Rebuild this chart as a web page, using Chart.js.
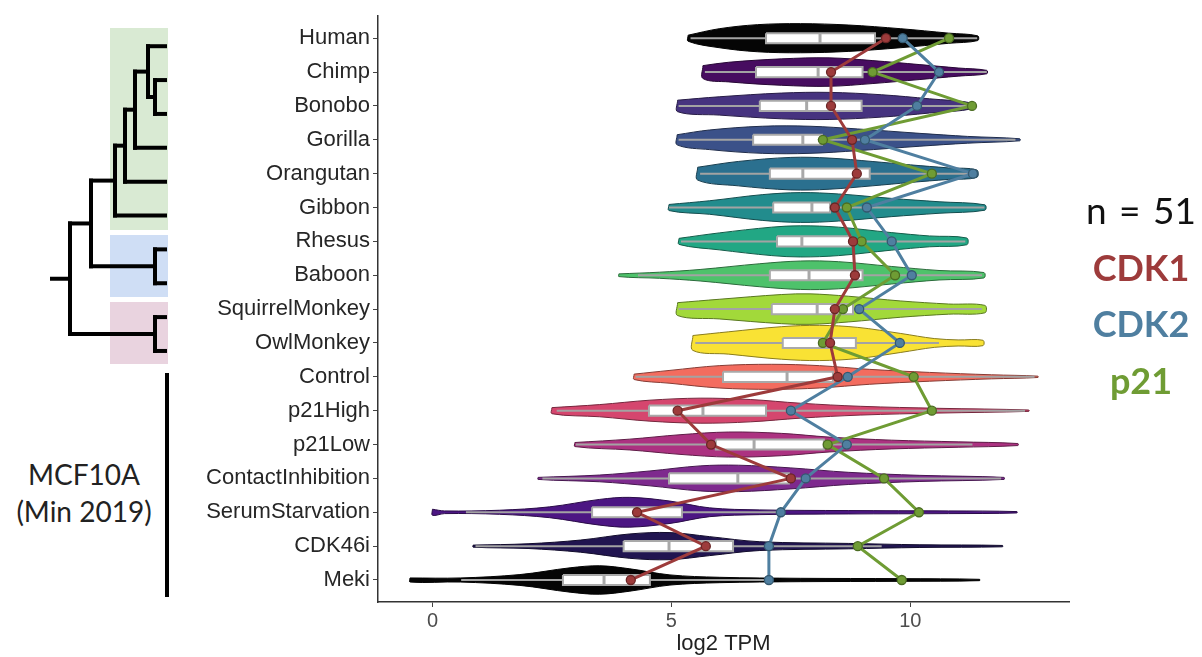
<!DOCTYPE html>
<html>
<head>
<meta charset="utf-8">
<script src="https://cdn.jsdelivr.net/npm/chart.js@4.4.1/dist/chart.umd.min.js"></script>
<style>
  html, body { margin: 0; padding: 0; background: #fff; }
  #wrap { position: relative; width: 1202px; height: 657px; overflow: hidden; }
  #chart { position: absolute; left: 0; top: 0; }
  .clade { position: absolute; left: 110px; width: 58px; }
  #mcf-bar { position: absolute; left: 165px; top: 373px; width: 4px; height: 224px; background: #000; }
  #mcf-label {
    position: absolute; left: 4px; width: 160px; top: 456px; text-align: center;
    font-family: Lato, "Open Sans", sans-serif; font-size: 28px; line-height: 37px; color: #222;
  }
  #legend {
    position: absolute; left: 1076px; width: 130px; top: 182px; text-align: center;
    font-family: Lato, "Open Sans", sans-serif; font-size: 37px; line-height: 56.5px;
  }
  #legend .n { color: #111; word-spacing: 3px; }
  #legend .g { font-weight: bold; font-size: 36px; }
</style>
</head>
<body>
<div id="wrap">
  <div class="clade" style="top:28px;height:202px;background:#d9ead3"></div>
  <div class="clade" style="top:235px;height:62px;background:#cfdef5"></div>
  <div class="clade" style="top:302px;height:62px;background:#e9d3df"></div>
  <div id="mcf-bar"></div>
  <div id="mcf-label">MCF10A<br>(Min 2019)</div>
  <canvas id="chart" width="1202" height="657"></canvas>
  <div id="legend">
    <div class="n">n = 51</div>
    <div class="g" style="color:#9d3b3b">CDK1</div>
    <div class="g" style="color:#4f7fa0">CDK2</div>
    <div class="g" style="color:#6f9c34">p21</div>
  </div>
</div>
<script>
const ROWS = ['Human', 'Chimp', 'Bonobo', 'Gorilla', 'Orangutan', 'Gibbon', 'Rhesus', 'Baboon',
  'SquirrelMonkey', 'OwlMonkey', 'Control', 'p21High', 'p21Low', 'ContactInhibition',
  'SerumStarvation', 'CDK46i', 'Meki'];
const X_TICKS = [0, 5, 10];

// gene medians, log2 TPM, one per row
const CDK1 = [9.49, 8.34, 8.34, 8.78, 8.88, 8.42, 8.8, 8.84, 8.42, 8.32, 8.48, 5.13, 5.83, 7.5, 4.28, 5.72, 4.15];
const CDK2 = [9.84, 10.6, 10.14, 9.05, 11.31, 9.09, 9.61, 10.03, 8.93, 9.78, 8.69, 7.5, 8.67, 7.81, 7.29, 7.04, 7.04];
const P21 = [10.81, 9.21, 11.29, 8.17, 10.45, 8.67, 8.98, 9.68, 8.59, 8.17, 10.07, 10.45, 8.27, 9.45, 10.18, 8.9, 9.82];

// boxplot stats per row
const Q1 = [6.98, 6.77, 6.85, 6.71, 7.06, 7.13, 7.21, 7.06, 7.1, 7.33, 6.08, 4.53, 5.93, 4.95, 3.34, 4.0, 2.73];
const MEDIAN = [8.11, 8.07, 7.83, 7.75, 7.75, 7.94, 7.73, 7.88, 8.05, 8.11, 7.42, 5.66, 6.73, 6.39, 4.24, 4.95, 3.59];
const Q3 = [9.26, 9.0, 8.98, 8.15, 9.15, 8.32, 8.75, 9.0, 8.8, 8.86, 8.38, 6.98, 8.19, 7.46, 5.22, 6.29, 4.55];
const WHISKER_LO = [5.4, 5.7, 5.15, 5.15, 5.6, 4.95, 5.2, 4.3, 5.15, 5.5, 4.25, 2.6, 3.0, 2.3, 0.7, 0.9, 0.6];
const WHISKER_HI = [11.4, 11.6, 11.3, 12.2, 11.4, 11.55, 11.15, 11.5, 11.5, 10.6, 12.6, 12.4, 11.3, 11.9, 7.3, 9.4, 7.1];

// violin outlines: x positions and half widths (in row units)
const VIOLIN_X = [
  [5.35, 6.0, 6.8, 7.7, 8.7, 9.8, 10.8, 11.41],
  [5.66, 6.2, 7.3, 8.3, 9.2, 10.2, 11.0, 11.6],
  [5.13, 6.0, 7.3, 8.3, 9.4, 10.4, 11.31],
  [5.12, 5.8, 6.9, 7.9, 8.9, 10.2, 11.2, 12.29],
  [5.55, 6.4, 7.5, 8.3, 9.2, 10.0, 10.8, 11.39],
  [4.95, 5.8, 6.9, 7.7, 8.5, 9.6, 10.6, 11.56],
  [5.16, 6.0, 7.1, 7.7, 8.5, 9.6, 10.4, 11.18],
  [3.9, 4.75, 5.6, 6.85, 7.7, 8.5, 9.6, 10.6, 11.54],
  [5.13, 6.0, 7.3, 7.9, 8.7, 9.8, 10.8, 11.56],
  [5.45, 6.2, 7.3, 8.1, 8.9, 9.8, 10.5, 11.0, 11.52],
  [4.22, 4.97, 6.0, 7.1, 8.1, 9.15, 10.4, 11.7, 12.67],
  [2.5, 3.5, 4.55, 5.6, 6.65, 7.7, 8.95, 10.6, 12.48],
  [2.98, 4.13, 5.18, 6.2, 7.3, 8.3, 9.6, 11.0, 12.25],
  [2.21, 3.5, 4.55, 5.6, 6.4, 7.5, 8.7, 10.2, 11.96],
  [0.0, 0.25, 1.4, 2.45, 3.5, 4.13, 4.97, 5.8, 6.85, 8.7, 10.8, 12.23],
  [0.85, 2.0, 3.1, 4.13, 4.97, 5.8, 6.85, 8.7, 10.2, 11.93],
  [-0.47, 0.58, 1.83, 2.88, 3.5, 4.13, 4.97, 6.0, 7.7, 9.8, 11.45],
];
const VIOLIN_W = [
  [0.09, 0.28, 0.4, 0.43, 0.39, 0.28, 0.15, 0.07],
  [0.19, 0.29, 0.39, 0.42, 0.34, 0.22, 0.12, 0.05],
  [0.17, 0.27, 0.38, 0.4, 0.33, 0.21, 0.08],
  [0.15, 0.29, 0.4, 0.4, 0.32, 0.19, 0.1, 0.03],
  [0.19, 0.36, 0.48, 0.46, 0.36, 0.26, 0.17, 0.11],
  [0.09, 0.2, 0.38, 0.44, 0.4, 0.27, 0.17, 0.08],
  [0.09, 0.25, 0.42, 0.46, 0.42, 0.26, 0.16, 0.1],
  [0.04, 0.09, 0.17, 0.34, 0.42, 0.4, 0.26, 0.14, 0.08],
  [0.19, 0.29, 0.43, 0.45, 0.38, 0.24, 0.15, 0.11],
  [0.22, 0.33, 0.48, 0.52, 0.46, 0.28, 0.13, 0.09, 0.08],
  [0.08, 0.19, 0.33, 0.37, 0.33, 0.22, 0.13, 0.06, 0.02],
  [0.09, 0.18, 0.31, 0.37, 0.33, 0.22, 0.13, 0.07, 0.02],
  [0.06, 0.16, 0.29, 0.37, 0.33, 0.22, 0.13, 0.08, 0.03],
  [0.03, 0.1, 0.22, 0.37, 0.39, 0.31, 0.18, 0.09, 0.03],
  [0.09, 0.04, 0.06, 0.16, 0.38, 0.44, 0.33, 0.13, 0.07, 0.05, 0.04, 0.02],
  [0.03, 0.07, 0.18, 0.36, 0.4, 0.28, 0.13, 0.08, 0.04, 0.02],
  [0.06, 0.06, 0.16, 0.36, 0.42, 0.33, 0.15, 0.08, 0.05, 0.04, 0.02],
];
const VIOLIN_COLORS = ['#050505', '#470d60', '#46337f', '#3b5189', '#2b708f', '#228c8d', '#22a784',
  '#4ec26b', '#a2d93a', '#f9e234', '#f36c5f', '#d5466e', '#ac3281', '#7e2a8e', '#4c1683',
  '#211550', '#050505'];

// dendrogram of the primate rows; x = branch position in px
const TREE = {x: 70, children: [
  {x: 91, children: [
    {x: 115, children: [
      {x: 125, children: [
        {x: 135, children: [
          {x: 148, children: ['Human', {x: 155, children: ['Chimp', 'Bonobo']}]},
          'Gorilla']},
        'Orangutan']},
      'Gibbon']},
    {x: 155, children: ['Rhesus', 'Baboon']}]},
  {x: 155, children: ['SquirrelMonkey', 'OwlMonkey']}]};

const BOX_H = 0.15;
const LEAF_X = 165;

function darken(hex, f) {
  const n = parseInt(hex.slice(1), 16);
  const r = Math.round(((n >> 16) & 255) * f), g = Math.round(((n >> 8) & 255) * f), b = Math.round((n & 255) * f);
  return `rgb(${r},${g},${b})`;
}

function violinOutline(i) {
  const xs = VIOLIN_X[i];
  const ws = VIOLIN_W[i];
  const top = xs.map((x, k) => ({x, y: i - ws[k]}));
  const bottom = xs.map((x, k) => ({x, y: i + ws[k]})).reverse();
  return [...top, ...bottom, top[0]];
}

const GAP = {x: null, y: null};
const whiskerPts = [], boxPts = [], medianPts = [];
ROWS.forEach((_, i) => {
  whiskerPts.push({x: WHISKER_LO[i], y: i}, {x: WHISKER_HI[i], y: i}, GAP);
  boxPts.push({x: Q1[i], y: i - BOX_H}, {x: Q3[i], y: i - BOX_H}, {x: Q3[i], y: i + BOX_H},
    {x: Q1[i], y: i + BOX_H}, {x: Q1[i], y: i - BOX_H}, GAP);
  medianPts.push({x: MEDIAN[i], y: i - BOX_H}, {x: MEDIAN[i], y: i + BOX_H}, GAP);
});

const geneLine = (vals, color, edge) => ({
  data: vals.map((x, i) => ({x, y: i})),
  showLine: true, borderColor: color, borderWidth: 3,
  pointRadius: 4.5, pointBackgroundColor: color, pointBorderColor: edge, pointBorderWidth: 1.3,
  order: 0,
});

const datasets = [
  geneLine(CDK1, '#9d3b3b', '#6a2626'),
  geneLine(CDK2, '#4f7fa0', '#34586f'),
  geneLine(P21, '#6f9c34', '#4b6c22'),
  {data: medianPts, showLine: true, spanGaps: false, borderColor: '#a9a9a9', borderWidth: 3, pointRadius: 0, order: 1},
  {data: boxPts, showLine: true, spanGaps: false, borderColor: '#a9a9a9', borderWidth: 2, backgroundColor: '#fff',
    fill: 'shape', pointRadius: 0, order: 2},
  {data: whiskerPts, showLine: true, spanGaps: false, borderColor: '#a3a3a3', borderWidth: 2, pointRadius: 0, order: 3},
];
ROWS.forEach((_, i) => {
  datasets.push({
    data: violinOutline(i), showLine: true, tension: 0.35, fill: 'shape',
    backgroundColor: VIOLIN_COLORS[i], borderColor: darken(VIOLIN_COLORS[i], 0.55), borderWidth: 1,
    pointRadius: 0, order: 4,
  });
});

const dendrogram = {
  id: 'dendrogram',
  afterDraw(chart) {
    const ctx = chart.ctx;
    const ys = chart.scales.y;
    ctx.save();
    ctx.strokeStyle = '#000';
    ctx.lineWidth = 4;
    ctx.lineCap = 'square';
    const seg = (x1, y1, x2, y2) => { ctx.beginPath(); ctx.moveTo(x1, y1); ctx.lineTo(x2, y2); ctx.stroke(); };
    const place = (node) => {
      if (typeof node === 'string') return ys.getPixelForValue(ROWS.indexOf(node)) + 8;
      const cy = node.children.map(place);
      seg(node.x, Math.min(...cy), node.x, Math.max(...cy));
      node.children.forEach((c, k) => seg(node.x, cy[k], typeof c === 'string' ? LEAF_X : c.x, cy[k]));
      return cy.reduce((a, b) => a + b, 0) / cy.length;
    };
    const rootY = place(TREE);
    seg(52, rootY, TREE.x, rootY);
    ctx.restore();
  },
};

new Chart(document.getElementById('chart'), {
  type: 'scatter',
  data: {datasets},
  plugins: [dendrogram],
  options: {
    responsive: false,
    animation: false,
    events: [],
    devicePixelRatio: 1,
    layout: {padding: {left: 200, right: 133, top: 14, bottom: 0}},
    plugins: {legend: {display: false}, tooltip: {enabled: false}},
    scales: {
      x: {
        type: 'linear', min: -1.14, max: 13.32,
        afterBuildTicks: (s) => { s.ticks = X_TICKS.map((v) => ({value: v})); },
        afterFit: (s) => { s.height = 55; },
        grid: {display: true, drawOnChartArea: false, drawTicks: true, tickLength: 5, color: '#444'},
        border: {display: true, color: '#333', width: 1.5},
        ticks: {color: '#4d4d4d', font: {family: 'Liberation Sans', size: 20}, padding: 2, maxRotation: 0},
        title: {display: true, text: 'log2 TPM', color: '#222', font: {family: 'Liberation Sans', size: 22},
          padding: {top: 0, bottom: 0}},
      },
      y: {
        type: 'linear', min: -0.65, max: 16.65, reverse: true,
        afterBuildTicks: (s) => { s.ticks = ROWS.map((_, i) => ({value: i})); },
        afterFit: (s) => { s.width = 178; },
        grid: {display: true, drawOnChartArea: false, drawTicks: true, tickLength: 5, color: '#444'},
        border: {display: true, color: '#333', width: 1.5},
        ticks: {color: '#262626', font: {family: 'Liberation Sans', size: 22}, padding: 3,
          callback: (v) => ROWS[v] ?? ''},
      },
    },
  },
});
</script>
</body>
</html>
